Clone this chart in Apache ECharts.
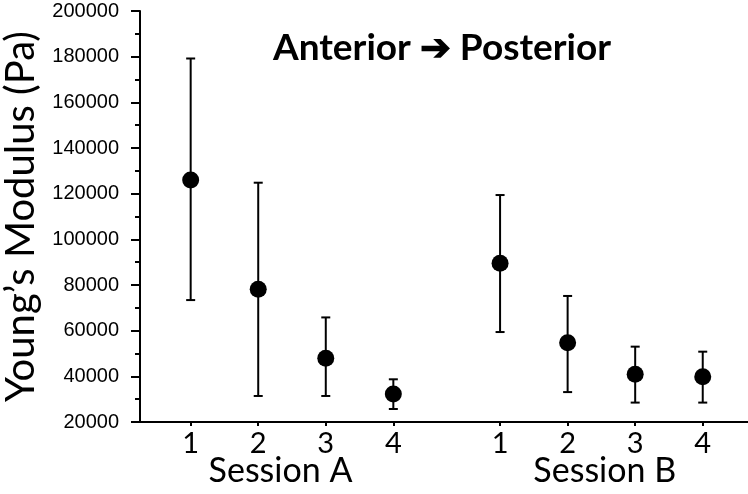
<!DOCTYPE html>
<html>
<head>
<meta charset="utf-8">
<script src="https://cdn.jsdelivr.net/npm/echarts@6/dist/echarts.min.js"></script>
<style>
  html, body { margin: 0; padding: 0; background: #fff; }
  #chart { width: 748px; height: 494px; }
</style>
</head>
<body>
<div id="chart"></div>
<script>
// x positions of each measurement (session B sits after a gap)
const xPos = [1, 2, 3, 4, 5.58, 6.58, 7.58, 8.58]
const xLabels = ['1', '2', '3', '4', '1', '2', '3', '4']
const sessionPos = [2.33, 7.13]
const sessionLabels = ['Session A', 'Session B']

// Young's modulus (Pa): mean and error bar limits
const meanVals = [126000, 78100, 47900, 32300, 89500, 54700, 40900, 39800]
const lowVals = [73400, 31400, 31400, 25700, 59400, 33100, 28500, 28500]
const highVals = [179200, 124800, 65800, 38700, 119400, 75200, 53000, 50800]

const chart = echarts.init(document.getElementById('chart'))

const pointData = xPos.map((x, i) => [x, meanVals[i]])
const barData = xPos.map((x, i) => [x, lowVals[i], highVals[i]])

chart.setOption({
  animation: false,
  title: {
    text: 'Anterior \u2794 Posterior',
    left: 437,
    top: 25,
    textAlign: 'center',
    textStyle: {
      fontFamily: 'Lato',
      fontWeight: 'bold',
      fontSize: 37,
      color: '#000'
    }
  },
  grid: {
    left: 140,
    right: 0,
    top: 11,
    bottom: 72,
    outerBoundsMode: 'none'
  },
  xAxis: [
    {
      type: 'value',
      min: 0.25,
      max: 9.25,
      splitLine: { show: false },
      axisLine: { lineStyle: { color: '#000', width: 2 } },
      axisTick: {
        customValues: xPos,
        length: 4,
        lineStyle: { color: '#000', width: 2 }
      },
      axisLabel: {
        customValues: xPos,
        formatter: (v) => xLabels[xPos.indexOf(v)],
        margin: 7,
        fontFamily: 'Lato',
        fontSize: 29,
        color: '#000'
      }
    },
    {
      type: 'value',
      position: 'bottom',
      min: 0.25,
      max: 9.25,
      splitLine: { show: false },
      axisLine: { show: false },
      axisTick: { show: false },
      axisLabel: {
        customValues: sessionPos,
        formatter: (v) => sessionLabels[sessionPos.indexOf(v)],
        margin: 32,
        fontFamily: 'Lato',
        fontSize: 34,
        color: '#000'
      }
    }
  ],
  yAxis: {
    type: 'value',
    min: 20000,
    max: 200000,
    interval: 20000,
    name: 'Young\u2019s Modulus (Pa)',
    nameLocation: 'middle',
    nameGap: 90,
    nameTextStyle: {
      fontFamily: 'Lato',
      fontSize: 40,
      color: '#000'
    },
    splitLine: { show: false },
    axisLine: { show: true, lineStyle: { color: '#000', width: 2 } },
    axisTick: {
      show: true,
      length: 9,
      lineStyle: { color: '#000', width: 2 }
    },
    minorTick: {
      show: true,
      splitNumber: 2,
      length: 5,
      lineStyle: { color: '#000', width: 2 }
    },
    axisLabel: {
      margin: 21,
      formatter: (v) => String(v),
      fontFamily: 'Liberation Sans',
      fontSize: 20,
      color: '#000'
    }
  },
  series: [
    {
      type: 'custom',
      data: barData,
      renderItem(params, api) {
        const x = api.value(0)
        const lo = api.coord([x, api.value(1)])
        const hi = api.coord([x, api.value(2)])
        const half = 4.5
        const style = { stroke: '#000', lineWidth: 2 }
        return {
          type: 'group',
          children: [
            { type: 'line', shape: { x1: lo[0], y1: lo[1], x2: hi[0], y2: hi[1] }, style },
            { type: 'line', shape: { x1: lo[0] - half, y1: lo[1], x2: lo[0] + half, y2: lo[1] }, style },
            { type: 'line', shape: { x1: hi[0] - half, y1: hi[1], x2: hi[0] + half, y2: hi[1] }, style }
          ]
        }
      },
      z: 1
    },
    {
      type: 'scatter',
      data: pointData,
      symbol: 'circle',
      symbolSize: 17,
      itemStyle: { color: '#000', opacity: 1 },
      z: 2
    }
  ]
})
</script>
</body>
</html>
